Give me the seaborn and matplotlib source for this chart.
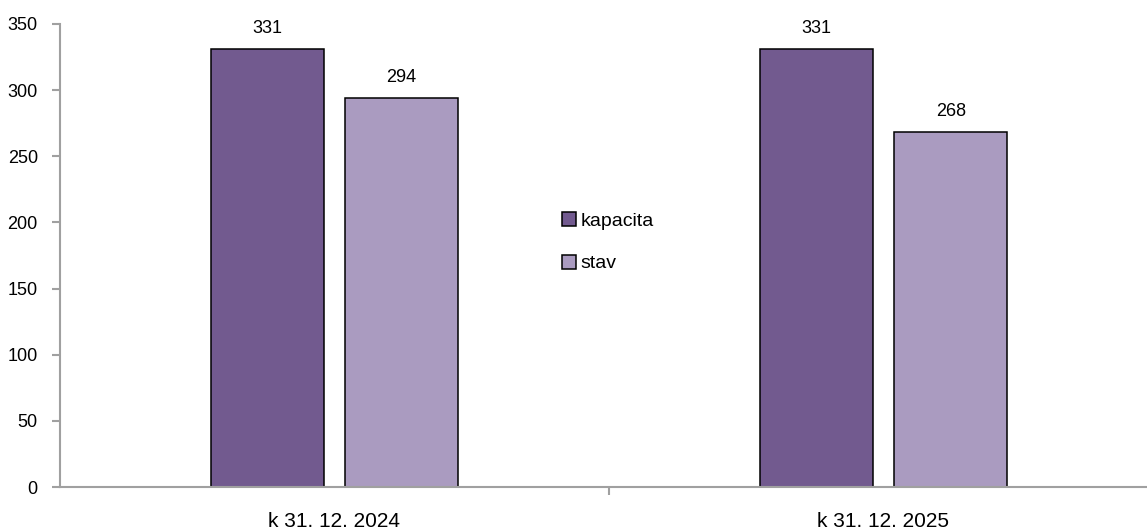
import matplotlib
matplotlib.use("Agg")
import matplotlib.pyplot as plt
import seaborn as sns
import pandas as pd
from matplotlib.ticker import FixedLocator, NullFormatter

dates = ["k 31. 12. 2024", "k 31. 12. 2025"]
series = ["kapacita", "stav"]
kapacita = [331, 331]
stav = [294, 268]
colors = ["#725A8F", "#AA9BC0"]

df = pd.DataFrame({
    "date": dates * 2,
    "series": [series[0]] * 2 + [series[1]] * 2,
    "value": kapacita + stav,
})

sns.set_style("white")
plt.rcParams["font.family"] = ["Liberation Sans", "DejaVu Sans"]
plt.rcParams["text.color"] = "black"
plt.rcParams["xtick.color"] = "black"
plt.rcParams["ytick.color"] = "black"

W, H = 1147, 532
fig = plt.figure(figsize=(W / 100, H / 100), dpi=100)
ax = fig.add_axes([60 / W, (H - 487) / H, (W - 60) / W, (487 - 24) / H])

sns.barplot(data=df, x="date", y="value", hue="series", palette=colors,
            width=0.49, gap=0.16, edgecolor="black", linewidth=1.1,
            saturation=1, ax=ax, legend=True)

for c in ax.containers:
    ax.bar_label(c, labels=[f"{int(v)}" for v in c.datavalues],
                 padding=9, fontsize=13, color="black")

ax.set_ylim(0, 350)
ax.set_yticks(range(0, 351, 50))
ax.set_xlim(-0.4997, 1.480)

# ticks at category boundaries, labels at centres
ax.xaxis.set_major_locator(FixedLocator([-0.5, 0.5, 1.5]))
ax.xaxis.set_major_formatter(NullFormatter())
ax.xaxis.set_minor_locator(FixedLocator([0, 1]))
ax.set_xticklabels(dates, minor=True)
ax.tick_params(axis="x", which="major", bottom=True, length=6, width=1.5,
               color="#A0A0A0", direction="out")
ax.tick_params(axis="x", which="minor", bottom=True, length=0, pad=18,
               labelsize=15, labelcolor="black")
ax.tick_params(axis="y", left=True, length=6, width=1.5, color="#A0A0A0",
               direction="out", pad=10, labelsize=13, labelcolor="black")
ax.set_xlabel("")
ax.set_ylabel("")

for s in ["top", "right"]:
    ax.spines[s].set_visible(False)
for s in ["left", "bottom"]:
    ax.spines[s].set_color("#A0A0A0")
    ax.spines[s].set_linewidth(1.5)

leg = ax.legend(loc="upper left", bbox_to_anchor=(562 / W, (H - 212) / H),
                bbox_transform=fig.transFigure, frameon=False, fontsize=14,
                handlelength=0.7, handleheight=0.7, handletextpad=0.25,
                labelspacing=1.3, borderpad=0, borderaxespad=0)
for t in leg.get_texts():
    t.set_color("black")

fig.savefig("out.png", dpi=100)
